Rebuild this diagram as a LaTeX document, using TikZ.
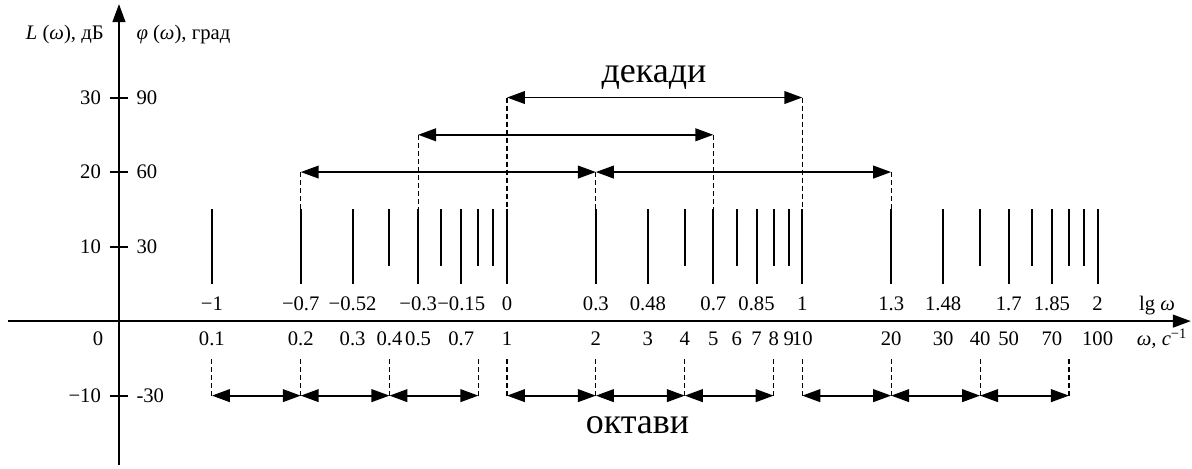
\documentclass[tikz,border=0pt]{standalone}
\usepackage{fontspec}
\setmainfont{Liberation Serif}
\usetikzlibrary{arrows.meta}
\tikzset{
  axis/.style = {line width=1.6pt, ->},
  tickline/.style = {line width=1.5pt},
  span/.style = {line width=1.4pt, <->},% double arrow
  guide/.style = {line width=0.8pt, dash pattern=on 3.75pt off 2.25pt},
  num/.style = {font=\fontsize{15.5}{18}\selectfont, inner sep=0pt},
  big/.style = {font=\fontsize{27}{30}\selectfont, inner sep=0pt}
}

\begin{document}
\begin{tikzpicture}[x=221.5pt, y=5.59pt, >={Triangle[length=13.5pt,width=9.5pt]}]
\useasboundingbox (-1.7169,-19.732) rectangle (2.3197,43.087);

% axes
\coordinate (ybot) at (-1.314,-19.33);
\coordinate (ytop) at (-1.314,42.55);
\coordinate (xl) at (-1.69,0);
\coordinate (xr) at (2.316,0);
\draw[axis] (ybot) -- (ytop);
\draw[axis] (xl) -- (xr);

\node[num, anchor=east] (Llab) at (-1.365,38.4) {\textit{L} (\textit{ω}), дБ};
\node[num, anchor=west] (plab) at (-1.2555,38.4) {\textit{φ} (\textit{ω}), град};
\node[num] (zero) at (-1.385,-2.42) {0};
\node[num, anchor=base] (lglab) at (2.201,1.48) {lg \textit{ω}};
\node[num, anchor=base] (wlab) at (2.218,-3.22) {\textit{ω, c}\textsuperscript{−1}};

% scale of the vertical axis
\foreach \v/\l/\r [count=\i] in {30/30/90, 20/20/60, 10/10/30, -10/−10/-30}{
  \draw[tickline] (-1.3445,\v) -- (-1.2835,\v);
  \node[num, anchor=east] (yl\i) at (-1.3745,\v) {\l};
  \node[num, anchor=west] (yr\i) at (-1.2555,\v) {\r};
}

% logarithmic marks
\foreach \d in {0.1,1,10}{
  \foreach \m/\low in {1/5,2/5,3/5,4/7.4,5/5,6/7.4,7/5,8/7.4,9/7.4}
    \draw[tickline] ({log10(\d*\m)},15) -- ({log10(\d*\m)},\low);
}
\draw[tickline] (2,15) -- (2,5);

\foreach \w/\t [count=\i] in {0.1/−1, 0.2/−0.7, 0.3/−0.52, 0.5/−0.3, 0.7/−0.15,
    1/0, 2/0.3, 3/0.48, 5/0.7, 7/0.85, 10/1, 20/1.3, 30/1.48, 50/1.7, 70/1.85, 100/2}
  \node[num, anchor=base] (lg\i) at ({log10(\w)},1.48) {\t};

\foreach \w [count=\i] in {0.1,0.2,0.3,0.4,0.5,0.7,1,2,3,4,5,6,7,8,9,10,20,30,40,50,70,100}
  \node[num, anchor=base] (om\i) at ({log10(\w)},-3.22) {\w};

% decades
\coordinate (dA1) at (0,30);
\coordinate (dA2) at (1,30);
\coordinate (dB1) at ({log10(0.5)},25);
\coordinate (dB2) at ({log10(5)},25);
\coordinate (dC1) at ({log10(0.2)},20);
\coordinate (dC2) at ({log10(2)},20);
\coordinate (dC3) at ({log10(20)},20);
\draw[span] (dA1) -- (dA2);
\draw[span] (dB1) -- (dB2);
\draw[span] (dC1) -- (dC2);
\draw[span] (dC2) -- (dC3);
\foreach \c/\h in {dA1/15,dA2/15,dB1/10,dB2/10,dC1/5,dC2/5,dC3/5}
  \draw[guide] (\c) -- ++(0,-\h);
\node[big, anchor=base] (dec) at (0.498,32.08) {декади};

% octaves
\foreach \w/\n in {0.1/a,0.2/b,0.4/c,0.8/d,1/e,2/f,4/g,8/h,10/i,20/j,40/k,80/l}
  \coordinate (oct\n) at ({log10(\w)},-10);
\foreach \p/\q in {a/b,b/c,c/d,e/f,f/g,g/h,i/j,j/k,k/l}
  \draw[span] (oct\p) -- (oct\q);
\foreach \n in {a,b,c,d,e,f,g,h,i,j,k,l}
  \draw[guide] (oct\n) -- ++(0,5.2);
\node[big, anchor=base] (oct) at (0.442,-15.03) {октави};
\end{tikzpicture}
\end{document}
